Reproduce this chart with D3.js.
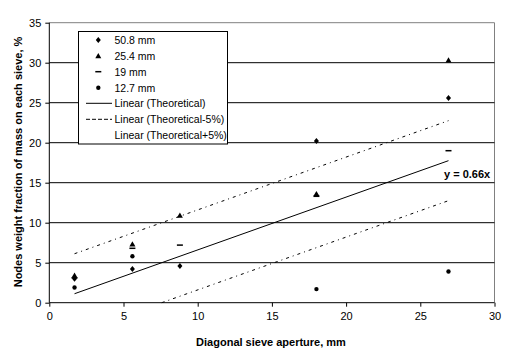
<!DOCTYPE html>
<html><head><meta charset="utf-8">
<script src="https://cdn.jsdelivr.net/npm/d3@7"></script>
<style>body{margin:0;background:#fff}svg{display:block}text{font-family:Arial,"Liberation Sans",sans-serif}</style>
</head><body><svg id="c" width="523" height="358"></svg>
<script>
const apertures = [1.7, 5.6, 8.8, 18.0, 26.9];
const s508 = [3.0, 4.2, 4.6, 20.2, 25.6];
const s254 = [3.4, 7.3, 10.9, 13.6, 30.3];
const s19  = [3.1, 6.8, 7.2, 13.3, 19.0];
const s127 = [1.9, 5.8, null, 1.7, 3.9];
const slope = 0.66;
const lineX = [1.7, 26.9];
const offsets = [0, -5, 5];
const xTicks = [0, 5, 10, 15, 20, 25, 30];
const yTicks = [0, 5, 10, 15, 20, 25, 30, 35];
const legendLabels = ["50.8 mm", "25.4 mm", "19 mm", "12.7 mm", "Linear (Theoretical)", "Linear (Theoretical-5%)", "Linear (Theoretical+5%)"];

const svg = d3.select("#c");
const x = d3.scaleLinear().domain([0, 30]).range([49.3, 494.5]);
const y = d3.scaleLinear().domain([0, 35]).range([302.7, 22.7]);

svg.append("path").attr("d", `M${x(0)},${y(35)}H${x(30)}V${y(0)}`).attr("fill", "none").attr("stroke", "#808080").attr("stroke-width", 1);
svg.append("g").selectAll("line").data(yTicks.filter(d => d > 0 && d < 35)).join("line")
  .attr("x1", x(0)).attr("x2", x(30)).attr("y1", d => y(d)).attr("y2", d => y(d))
  .attr("stroke", "#000").attr("stroke-width", 1);

const xAxis = svg.append("g").attr("transform", `translate(0,${y(0)})`)
  .call(d3.axisBottom(x).tickValues(xTicks).tickSize(4).tickPadding(6));
const yAxis = svg.append("g").attr("transform", `translate(${x(0)},0)`)
  .call(d3.axisLeft(y).tickValues(yTicks).tickSize(4).tickPadding(4));
[xAxis, yAxis].forEach(g => {
  g.selectAll("path,line").attr("stroke", "#000").attr("stroke-width", 1);
  g.selectAll("text").attr("font-size", 11).attr("fill", "#000").attr("font-family", "Arial,'Liberation Sans',sans-serif");
});
xAxis.select(".domain").attr("d", `M${x(0)},0H${x(30)}`);
yAxis.select(".domain").attr("d", `M0,${y(0)}V${y(35)}`);

const dashes = [null, "3,4,1,4", "3,4,1,4"];
offsets.forEach((o, i) => {
  let x0 = lineX[0];
  if (slope * x0 + o < 0) x0 = -o / slope;
  svg.append("line")
    .attr("x1", x(x0)).attr("y1", y(slope * x0 + o))
    .attr("x2", x(lineX[1])).attr("y2", y(slope * lineX[1] + o))
    .attr("stroke", "#000").attr("stroke-width", 1)
    .attr("stroke-dasharray", dashes[i]);
});

function drawMarker(g, type, cx, cy) {
  if (type === "diamond") g.append("path").attr("d", "M0,-3L2.5,0L0,3L-2.5,0Z").attr("transform", `translate(${cx},${cy})`).attr("fill", "#000");
  else if (type === "triangle") g.append("path").attr("d", "M0,-3L3,2.2L-3,2.2Z").attr("transform", `translate(${cx},${cy})`).attr("fill", "#000");
  else if (type === "dash") g.append("rect").attr("x", cx - 3).attr("y", cy - 0.75).attr("width", 6).attr("height", 1.5).attr("fill", "#000");
  else g.append("path").attr("d", d3.symbol(d3.symbolCircle, 15)()).attr("transform", `translate(${cx},${cy})`).attr("fill", "#000");
}
const series = [[s508, "diamond"], [s254, "triangle"], [s19, "dash"], [s127, "circle"]];
const mg = svg.append("g");
series.forEach(([vals, type]) => {
  vals.forEach((v, i) => { if (v != null) drawMarker(mg, type, x(apertures[i]), y(v)); });
});

svg.append("text").attr("x", x(26.6)).attr("y", 178).attr("font-size", 11).attr("font-weight", "bold").text("y = 0.66x");

const lg = svg.append("g");
lg.append("rect").attr("x", 78.5).attr("y", 31.5).attr("width", 149).attr("height", 112.5).attr("fill", "#fff").attr("stroke", "#000").attr("stroke-width", 1);
const ly = [40, 56, 71.7, 87.7, 103.3, 119.3, 135];
legendLabels.forEach((t, i) => {
  lg.append("text").attr("x", 114.5).attr("y", ly[i] + 4).attr("font-size", 10.5).text(t);
  if (i < 4) drawMarker(lg, series[i][1], 98.3, ly[i]);
  else if (i === 4) lg.append("line").attr("x1", 86).attr("x2", 112).attr("y1", ly[i]).attr("y2", ly[i]).attr("stroke", "#000");
  else if (i === 5) lg.append("line").attr("x1", 86).attr("x2", 112).attr("y1", ly[i]).attr("y2", ly[i]).attr("stroke", "#000").attr("stroke-dasharray", "4,2");
});

svg.append("text").attr("x", 271).attr("y", 346).attr("text-anchor", "middle").attr("font-size", 11).attr("font-weight", "bold").text("Diagonal sieve aperture, mm");
svg.append("text").attr("transform", "translate(22,162) rotate(-90)").attr("text-anchor", "middle").attr("font-size", 11).attr("font-weight", "bold").text("Nodes weight fraction of mass on each sieve, %");
</script></body></html>
